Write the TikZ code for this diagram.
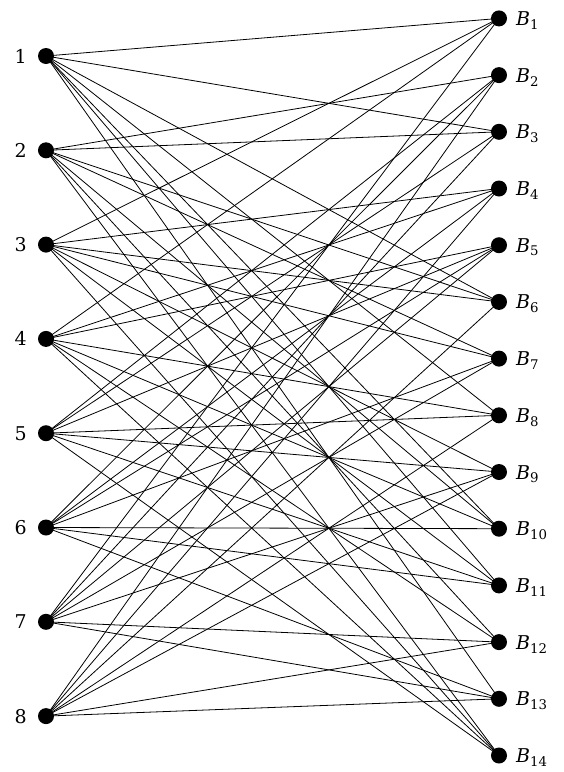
\documentclass[tikz,border=0pt]{standalone}
\usepackage{fontspec}
\setmainfont{DejaVu Serif}
\begin{document}
\begin{tikzpicture}[x=1pt,y=-1pt,
  vtx/.style={circle,fill=black,inner sep=0pt,minimum size=16pt},
  edge/.style={line width=0.8pt},
  lbl/.style={font=\fontsize{19}{23}\selectfont,inner sep=0pt}]
\useasboundingbox (0,0) rectangle (563,772);
\foreach \j in {1,...,8} {
  \node[vtx] (L\j) at (46,{56+94.3*(\j-1)}) {};
  \node[lbl,anchor=base east] (l\j) at (27,{63+94.3*(\j-1)}) {\j};
}
\foreach \i in {1,...,14} {
  \node[vtx] (B\i) at (499,{18.4+56.7*(\i-1)}) {};
  \node[lbl,anchor=base west] (b\i) at (516,{25.4+56.7*(\i-1)}) {\textit{B}\textsubscript{\i}};
}
\foreach \b/\members in {1/{1,3,4,7},2/{2,5,6,8},3/{1,2,5,7},4/{3,4,6,8},5/{4,5,6,7},6/{1,2,3,8},7/{2,3,6,7},8/{1,4,5,8},9/{3,5,7,8},10/{1,2,4,6},11/{1,3,5,6},12/{2,4,7,8},13/{1,6,7,8},14/{2,3,4,5}} {
  \foreach \a in \members {
    \draw[edge] (L\a.center) -- (B\b.center);
  }
}
\end{tikzpicture}
\end{document}
